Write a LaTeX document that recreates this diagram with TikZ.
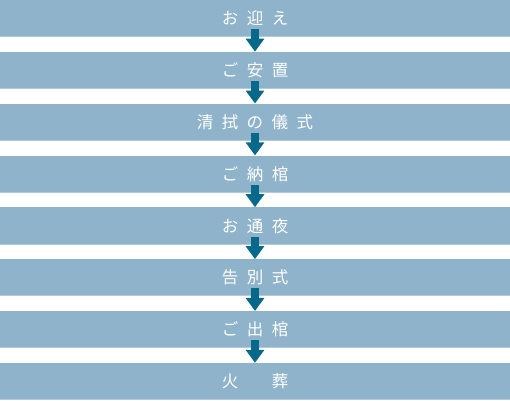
\documentclass[tikz,border=0pt]{standalone}
\usepackage{fontspec}
\newfontfamily\jpfont{Noto Sans CJK JP}
\usetikzlibrary{arrows.meta}
\definecolor{barblue}{HTML}{8FB3CB}
\definecolor{barline}{HTML}{B3CADA}
\definecolor{arrowblue}{HTML}{06698C}
\newcommand{\gp}{\hspace{8.5pt}}
\tikzset{
  bar/.style={rectangle, fill=barblue, minimum width=510pt, minimum height=37pt,
    inner sep=0pt, text=white, font=\jpfont\fontsize{16.5pt}{18pt}\selectfont},
  flowarrow/.style={draw=arrowblue, line width=8.5pt,
    -{Triangle[width=18pt,length=13pt]}},
  edge/.style={draw=barline, line width=1pt}
}
\begin{document}
\begin{tikzpicture}[x=1pt,y=1pt]
\useasboundingbox (0,0) rectangle (510,400);
\foreach \i/\t in {0/{お\gp 迎\gp え},1/{ご\gp 安\gp 置},2/{清\gp 拭\gp の\gp 儀\gp 式},3/{ご\gp 納\gp 棺},4/{お\gp 通\gp 夜},5/{告\gp 別\gp 式},6/{ご\gp 出\gp 棺},7/{火\gp\hspace{16.5pt}\gp 葬}}{
  \node[bar] (b\i) at (255, {400-18.5-51.857*\i}) {\t};
  \draw[edge] ([yshift=0.5pt]b\i.south west) -- ([yshift=0.5pt]b\i.south east);
}
\foreach \i in {0,...,6}{
  \pgfmathtruncatemacro{\j}{\i+1}
  \draw[flowarrow] ([yshift=8pt]b\i.south) -- (b\j.north);
}
\end{tikzpicture}
\end{document}
